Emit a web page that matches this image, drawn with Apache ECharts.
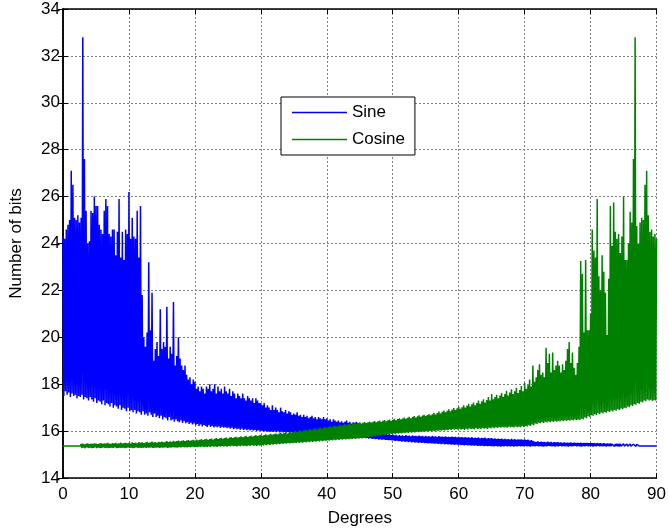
<!DOCTYPE html>
<html>
<head>
<meta charset="utf-8">
<script src="https://cdn.jsdelivr.net/npm/echarts@6/dist/echarts.min.js"></script>
<style>html,body{margin:0;padding:0;background:#fff}#c{width:669px;height:532px}</style>
</head>
<body>
<div id="c"></div>
<script>
// x step (degrees) between successive "high" samples; each "low" sample sits halfway between
const STEP = 0.25;
const xTicks = [0,10,20,30,40,50,60,70,80,90];
const yTicks = [14,16,18,20,22,24,26,28,30,32,34];

// Sine: upper samples at 0, 0.25, ... 90 (361 values)
const sineHigh = [
24.3,24.2,24.6,24.8,25.0,27.1,26.5,25.1,25.0,25.2,24.9,25.1,32.8,27.6,25.4,24.0,24.1,25.4,25.3,26.0,
25.6,25.6,24.8,24.6,24.4,25.4,25.9,25.6,24.4,24.3,24.6,24.6,23.5,24.5,25.9,23.4,24.5,23.3,24.6,24.4,
26.2,24.2,25.1,24.3,24.2,25.4,23.4,25.6,21.8,20.0,19.6,20.2,23.2,20.3,21.9,19.0,19.5,19.8,19.2,21.2,
19.5,19.8,19.6,21.3,19.1,19.6,19.3,21.5,18.8,19.2,20.0,19.1,18.8,18.6,18.8,18.4,18.2,18.3,18.0,18.2,
18.1,17.8,17.9,17.7,17.9,17.8,17.6,17.9,17.8,18.0,17.7,17.8,18.0,17.6,17.9,17.7,17.8,17.6,17.9,17.7,
17.6,17.8,17.5,17.7,17.6,17.4,17.6,17.5,17.4,17.6,17.4,17.3,17.5,17.4,17.3,17.4,17.2,17.4,17.3,17.2,
17.2,17.1,17.2,17.0,17.1,17.0,16.9,17.1,16.9,17.0,16.9,16.8,17.0,16.85,16.8,16.9,16.75,16.85,16.8,16.7,
16.75,16.7,16.8,16.65,16.7,16.6,16.7,16.6,16.65,16.55,16.6,16.65,16.55,16.6,16.5,16.6,16.55,16.5,16.6,16.5,
16.55,16.45,16.5,16.4,16.5,16.45,16.4,16.45,16.38,16.42,16.35,16.4,16.45,16.35,16.4,16.32,16.38,16.35,16.4,16.33,
16.35,16.05,15.95,16.0,15.92,15.97,15.9,15.95,15.88,15.93,15.9,15.86,15.92,15.85,15.9,15.85,15.88,15.84,15.87,15.83,
15.85,15.82,15.84,15.8,15.83,15.8,15.82,15.79,15.83,15.8,15.81,15.78,15.82,15.79,15.8,15.78,15.81,15.78,15.8,15.77,
15.8,15.77,15.79,15.76,15.8,15.77,15.78,15.75,15.79,15.76,15.77,15.75,15.78,15.74,15.76,15.75,15.77,15.74,15.76,15.73,
15.76,15.73,15.75,15.72,15.74,15.72,15.73,15.71,15.74,15.7,15.72,15.7,15.73,15.69,15.71,15.7,15.72,15.68,15.7,15.69,
15.7,15.67,15.69,15.66,15.68,15.66,15.68,15.65,15.67,15.65,15.66,15.64,15.67,15.64,15.66,15.63,15.65,15.64,15.65,15.63,
15.65,15.62,15.64,15.6,15.62,15.58,15.55,15.54,15.56,15.53,15.55,15.53,15.54,15.52,15.55,15.52,15.54,15.51,15.53,15.52,
15.53,15.51,15.52,15.5,15.52,15.5,15.51,15.5,15.52,15.49,15.51,15.5,15.5,15.49,15.51,15.48,15.5,15.49,15.5,15.48,
15.5,15.48,15.49,15.47,15.49,15.47,15.48,15.46,15.48,15.46,15.47,15.46,15.47,15.45,15.47,15.45,15.46,15.45,15.46,15.44,
15.46,15.44,15.45,15.44,15.45,15.43,15.44,15.43,15.44,15.42,15.36,15.36,15.36,15.36,15.36,15.36,15.36,15.36,15.36,15.36,
15.36
];
// Sine: lower samples at 0.125, 0.375, ... 89.875 (360 values)
const sineLow = [
17.5,17.7,17.55,17.65,17.45,17.6,17.5,17.55,17.4,17.5,17.45,17.55,17.35,17.45,17.4,17.3,17.45,17.35,17.25,17.4,
17.2,17.3,17.25,17.15,17.3,17.1,17.2,17.15,17.05,17.2,17.0,17.1,17.05,16.95,17.1,16.9,17.0,16.95,16.85,17.0,
16.85,16.9,16.8,16.9,16.75,16.85,16.8,16.7,16.85,16.7,16.75,16.65,16.8,16.7,16.6,16.75,16.6,16.65,16.55,16.65,
16.5,16.6,16.55,16.45,16.6,16.45,16.5,16.4,16.5,16.42,16.38,16.45,16.35,16.42,16.33,16.38,16.3,16.36,16.28,16.33,
16.25,16.3,16.22,16.28,16.2,16.26,16.22,16.18,16.25,16.18,16.22,16.15,16.2,16.16,16.2,16.13,16.18,16.14,16.16,16.12,
16.15,16.1,16.14,16.08,16.12,16.08,16.1,16.06,16.1,16.05,16.08,16.04,16.07,16.03,16.06,16.02,16.05,16.0,16.04,16.0,
16.02,15.98,16.01,15.97,16.0,15.96,15.99,15.96,15.98,15.95,15.98,15.94,15.97,15.94,15.96,15.93,15.96,15.93,15.95,15.92,
15.95,15.92,15.94,15.91,15.94,15.9,15.93,15.9,15.92,15.89,15.92,15.88,15.91,15.88,15.9,15.87,15.9,15.86,15.89,15.86,
15.88,15.85,15.87,15.84,15.86,15.82,15.85,15.81,15.83,15.8,15.82,15.78,15.8,15.77,15.79,15.75,15.77,15.74,15.76,15.73,
15.74,15.71,15.72,15.7,15.71,15.68,15.7,15.67,15.68,15.66,15.67,15.64,15.66,15.63,15.65,15.62,15.63,15.61,15.62,15.6,
15.6,15.58,15.59,15.57,15.58,15.55,15.57,15.54,15.56,15.53,15.55,15.52,15.54,15.51,15.53,15.5,15.52,15.5,15.51,15.49,
15.5,15.48,15.49,15.47,15.48,15.46,15.47,15.45,15.46,15.44,15.46,15.43,15.45,15.43,15.44,15.42,15.43,15.41,15.43,15.41,
15.42,15.4,15.41,15.39,15.41,15.39,15.4,15.38,15.39,15.38,15.39,15.37,15.38,15.37,15.38,15.36,15.37,15.36,15.37,15.36,
15.36,15.35,15.37,15.35,15.36,15.34,15.36,15.35,15.37,15.35,15.36,15.35,15.36,15.34,15.36,15.35,15.37,15.35,15.36,15.35,
15.37,15.35,15.36,15.34,15.36,15.36,15.35,15.37,15.35,15.36,15.35,15.34,15.36,15.35,15.37,15.36,15.35,15.36,15.34,15.36,
15.35,15.37,15.35,15.36,15.35,15.36,15.34,15.36,15.35,15.36,15.37,15.35,15.36,15.35,15.34,15.36,15.35,15.37,15.35,15.36,
15.36,15.34,15.36,15.35,15.37,15.35,15.36,15.35,15.36,15.34,15.36,15.35,15.36,15.37,15.35,15.36,15.35,15.34,15.36,15.35,
15.36,15.35,15.36,15.34,15.36,15.35,15.37,15.35,15.36,15.36,15.36,15.36,15.36,15.36,15.36,15.36,15.36,15.36,15.36,15.36
];
// Cosine: upper samples at 0, 0.25, ... 90 (361 values)
const cosineHigh = [
15.36,15.36,15.36,15.36,15.36,15.36,15.36,15.36,15.36,15.36,15.36,15.45,15.47,15.43,15.46,15.48,15.44,15.47,15.45,15.48,
15.46,15.44,15.47,15.49,15.45,15.48,15.46,15.5,15.47,15.45,15.49,15.47,15.5,15.46,15.48,15.51,15.47,15.49,15.5,15.48,
15.5,15.47,15.52,15.49,15.51,15.48,15.53,15.5,15.52,15.49,15.51,15.54,15.5,15.52,15.55,15.51,15.53,15.5,15.54,15.52,
15.55,15.52,15.54,15.57,15.53,15.56,15.54,15.58,15.55,15.57,15.6,15.56,15.58,15.61,15.57,15.6,15.62,15.58,15.61,15.63,
15.6,15.64,15.61,15.63,15.66,15.62,15.65,15.67,15.63,15.66,15.68,15.64,15.67,15.7,15.66,15.69,15.71,15.67,15.7,15.72,
15.68,15.72,15.74,15.7,15.73,15.76,15.72,15.75,15.78,15.74,15.77,15.8,15.75,15.78,15.81,15.77,15.8,15.83,15.79,15.82,
15.84,15.8,15.83,15.86,15.82,15.85,15.88,15.84,15.87,15.9,15.86,15.89,15.93,15.88,15.92,15.95,15.9,15.94,15.97,15.93,
15.96,16.0,15.95,15.99,16.03,15.98,16.02,16.06,16.01,16.05,16.09,16.04,16.08,16.12,16.07,16.11,16.15,16.1,16.14,16.18,
16.13,16.17,16.21,16.16,16.2,16.24,16.19,16.23,16.27,16.22,16.26,16.3,16.25,16.29,16.33,16.27,16.31,16.35,16.3,16.34,
16.37,16.32,16.36,16.39,16.34,16.38,16.41,16.36,16.4,16.43,16.38,16.42,16.45,16.4,16.44,16.47,16.42,16.46,16.49,16.44,
16.48,16.52,16.46,16.51,16.55,16.5,16.54,16.58,16.53,16.57,16.61,16.55,16.6,16.64,16.58,16.63,16.67,16.61,16.66,16.7,
16.64,16.69,16.73,16.67,16.72,16.78,16.71,16.77,16.83,16.75,16.82,16.88,16.8,16.87,16.93,16.85,16.92,16.98,16.9,16.97,
17.04,16.95,17.02,17.1,17.0,17.08,17.16,17.05,17.14,17.22,17.1,17.2,17.3,17.16,17.27,17.36,17.22,17.33,17.45,17.3,
17.58,17.36,17.45,17.55,17.4,17.52,17.62,17.46,17.58,17.72,17.52,17.65,17.78,17.58,17.7,17.85,17.62,17.75,17.92,17.7,
18.05,17.8,17.95,18.2,17.9,18.8,18.1,18.3,18.6,18.85,18.4,18.5,18.3,19.55,18.9,19.3,18.5,19.35,18.6,18.8,
19.0,18.8,18.5,18.85,18.6,19.0,19.5,19.8,18.9,19.35,18.7,18.4,18.9,19.6,23.25,22.7,20.2,23.3,20.3,20.3,
21.0,24.6,23.7,23.4,25.9,22.6,22.0,23.5,22.8,21.9,20.1,22.5,25.6,23.9,25.75,24.5,24.2,24.4,23.6,24.3,
26.0,23.3,23.3,24.0,25.35,24.9,27.6,32.8,24.75,24.0,24.9,25.1,25.0,26.5,27.1,25.2,24.5,24.6,24.3,24.4,
24.2
];
// Cosine: lower samples at 0.125, 0.375, ... 89.875 (360 values)
const cosineLow = [
15.36,15.36,15.36,15.36,15.36,15.36,15.36,15.36,15.36,15.36,15.36,15.28,15.3,15.27,15.31,15.28,15.3,15.27,15.29,15.31,
15.28,15.3,15.27,15.29,15.31,15.28,15.3,15.27,15.29,15.3,15.28,15.31,15.27,15.29,15.3,15.28,15.3,15.27,15.29,15.31,
15.28,15.3,15.27,15.29,15.31,15.28,15.3,15.28,15.29,15.31,15.28,15.3,15.29,15.31,15.28,15.3,15.29,15.31,15.28,15.3,
15.29,15.31,15.3,15.28,15.31,15.29,15.32,15.3,15.31,15.29,15.32,15.3,15.33,15.31,15.32,15.3,15.33,15.31,15.34,15.32,
15.33,15.31,15.34,15.32,15.35,15.33,15.34,15.32,15.35,15.33,15.36,15.34,15.35,15.33,15.36,15.34,15.37,15.35,15.36,15.34,
15.37,15.35,15.38,15.36,15.37,15.35,15.38,15.36,15.39,15.37,15.38,15.36,15.39,15.37,15.4,15.38,15.39,15.37,15.4,15.38,
15.41,15.39,15.42,15.4,15.43,15.41,15.44,15.42,15.45,15.43,15.46,15.44,15.47,15.45,15.48,15.46,15.49,15.47,15.5,15.48,
15.51,15.49,15.52,15.5,15.53,15.51,15.54,15.52,15.55,15.53,15.56,15.54,15.57,15.55,15.58,15.56,15.59,15.57,15.6,15.58,
15.61,15.59,15.62,15.6,15.63,15.61,15.64,15.62,15.65,15.63,15.66,15.64,15.67,15.65,15.68,15.66,15.69,15.67,15.7,15.68,
15.71,15.69,15.73,15.71,15.75,15.73,15.77,15.75,15.79,15.77,15.81,15.79,15.83,15.81,15.85,15.83,15.87,15.85,15.89,15.87,
15.9,15.88,15.91,15.89,15.92,15.9,15.93,15.91,15.94,15.92,15.95,15.93,15.96,15.94,15.97,15.95,15.98,15.96,15.99,15.97,
16.0,15.98,16.01,15.99,16.02,16.0,16.03,16.01,16.04,16.02,16.05,16.03,16.06,16.04,16.07,16.05,16.08,16.06,16.09,16.07,
16.1,16.06,16.09,16.05,16.1,16.07,16.11,16.08,16.1,16.07,16.12,16.09,16.11,16.08,16.13,16.1,16.12,16.09,16.14,16.11,
16.15,16.12,16.16,16.13,16.17,16.14,16.18,16.15,16.17,16.14,16.19,16.16,16.18,16.15,16.2,16.17,16.19,16.16,16.21,16.18,
16.22,16.2,16.25,16.22,16.28,16.25,16.32,16.3,16.36,16.33,16.38,16.35,16.4,16.37,16.41,16.38,16.42,16.39,16.43,16.4,
16.44,16.41,16.45,16.42,16.46,16.43,16.47,16.44,16.48,16.45,16.49,16.46,16.5,16.47,16.53,16.5,16.58,16.55,16.63,16.6,
16.68,16.65,16.72,16.69,16.76,16.72,16.79,16.75,16.82,16.78,16.85,16.81,16.88,16.84,16.9,16.87,16.93,16.9,16.96,16.93,
17.0,16.97,17.05,17.02,17.1,17.07,17.15,17.12,17.2,17.17,17.25,17.22,17.3,17.27,17.35,17.3,17.34,17.28,17.32,17.3
];

function zigzag(high, low) {
  const pts = [];
  for (let i = 0; i < high.length; i++) {
    pts.push([i * STEP, high[i]]);
    if (i < low.length) pts.push([i * STEP + STEP / 2, low[i]]);
  }
  return pts;
}

const FONT = "'Liberation Sans', Arial, sans-serif";
const chart = echarts.init(document.getElementById('c'), null, {renderer: 'canvas'});
const axisLine = {show: true, lineStyle: {color: '#000', width: 1.5}};
const tick = {show: true, inside: true, length: 5, lineStyle: {color: '#000', width: 1}};
const gridLine = {show: true, lineStyle: {color: '#808080', width: 1, type: [2, 2]}};
chart.setOption({
  animation: false,
  backgroundColor: '#fff',
  grid: {left: 62, right: 10, top: 9, bottom: 53, containLabel: false},
  legend: {
    data: ['Sine', 'Cosine'],
    orient: 'vertical',
    left: 281, top: 97,
    padding: [7, 10, 7, 11],
    itemGap: 10,
    icon: 'rect',
    itemWidth: 55, itemHeight: 1.5,
    borderColor: '#000', borderWidth: 1,
    backgroundColor: '#fff',
    textStyle: {fontFamily: FONT, fontSize: 17, color: '#000', lineHeight: 17},
    selectedMode: false
  },
  xAxis: [
    {type: 'value', position: 'bottom', min: xTicks[0], max: xTicks[xTicks.length - 1], interval: 10,
     axisLine: axisLine, axisTick: tick,
     axisLabel: {fontFamily: FONT, fontSize: 17, color: '#000', margin: 8},
     splitLine: gridLine,
     name: 'Degrees', nameLocation: 'middle', nameGap: 32,
     nameTextStyle: {fontFamily: FONT, fontSize: 17, color: '#000'}},
    {type: 'value', position: 'top', min: xTicks[0], max: xTicks[xTicks.length - 1], interval: 10,
     axisLine: axisLine, axisTick: tick, axisLabel: {show: false}, splitLine: {show: false}}
  ],
  yAxis: [
    {type: 'value', position: 'left', min: yTicks[0], max: yTicks[yTicks.length - 1], interval: 2,
     axisLine: axisLine, axisTick: tick,
     axisLabel: {fontFamily: FONT, fontSize: 17, color: '#000', margin: 3},
     splitLine: gridLine,
     name: 'Number of bits', nameLocation: 'middle', nameGap: 38,
     nameTextStyle: {fontFamily: FONT, fontSize: 17, color: '#000'}},
    {type: 'value', position: 'right', min: yTicks[0], max: yTicks[yTicks.length - 1], interval: 2,
     axisLine: axisLine, axisTick: tick, axisLabel: {show: false}, splitLine: {show: false}}
  ],
  series: [
    {name: 'Sine', type: 'line', xAxisIndex: 0, yAxisIndex: 0, data: zigzag(sineHigh, sineLow),
     symbol: 'none', showSymbol: false, silent: true, z: 2,
     lineStyle: {color: '#0000ff', width: 1.5}, itemStyle: {color: '#0000ff'}},
    {name: 'Cosine', type: 'line', xAxisIndex: 0, yAxisIndex: 0, data: zigzag(cosineHigh, cosineLow),
     symbol: 'none', showSymbol: false, silent: true, z: 3,
     lineStyle: {color: '#008000', width: 1.5}, itemStyle: {color: '#008000'}}
  ]
});
</script>
</body>
</html>
